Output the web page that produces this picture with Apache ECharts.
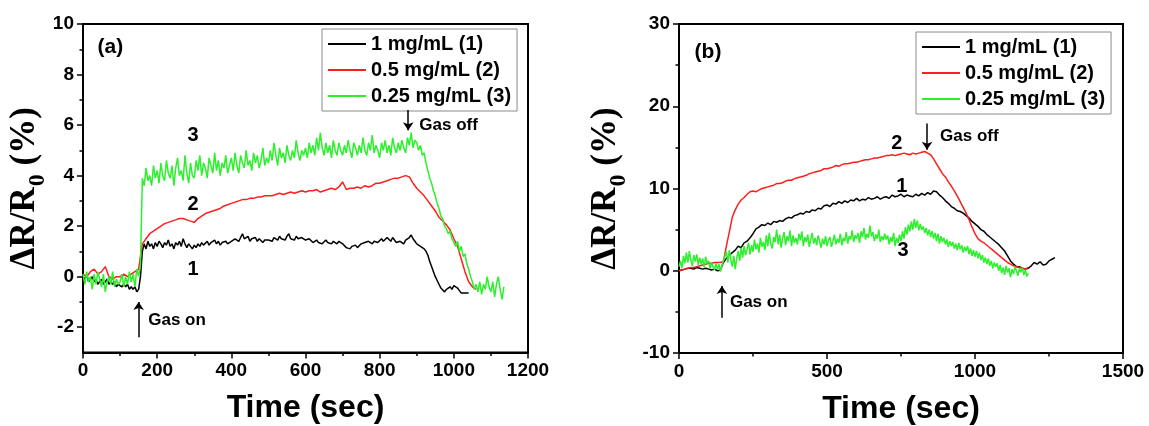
<!DOCTYPE html>
<html><head><meta charset="utf-8">
<script src="https://cdn.jsdelivr.net/npm/echarts@6/dist/echarts.min.js"></script>
<style>html,body{margin:0;padding:0;background:#fff}#c{width:1149px;height:426px}</style>
</head><body><div id="c"></div>
<script>
// ---------- data ----------
const seriesNames = ['1 mg/mL (1)', '0.5 mg/mL (2)', '0.25 mg/mL (3)'];
const seriesColors = ['#000000', '#ff1e1e', '#2bf02b'];

// Panel (a) tick values
const xTicksA = { min: 0, max: 1200, interval: 200 };
const yTicksA = [-2, 0, 2, 4, 6, 8, 10];
const yMinorTicksA = [-1, 1, 3, 5, 7, 9];
// Panel (b) tick values
const xTicksB = { min: 0, max: 1500, interval: 500 };
const yTicksB = { min: -10, max: 30, interval: 10 };

// sampling step (sec) of each recorded trace
const stepBlackA = 5, stepRedA = 10, stepGreenA = 5;
const stepBlackB = 10, stepRedB = 10, stepGreenB = 5;

// Panel (a) traces, ΔR/R0 (%)
const blackA = [
  0.0,-0.1,0.1,-0.2,-0.1,0.0,-0.2,-0.1,-0.3,-0.2,-0.1,-0.3,-0.2,-0.1,-0.3,-0.2,-0.3,-0.2,-0.4,-0.3,
  -0.3,-0.4,-0.3,-0.4,-0.3,-0.5,-0.4,-0.5,-0.4,-0.6,-0.5,0.0,1.0,1.3,1.1,1.4,1.2,1.3,1.1,1.35,
  1.2,1.4,1.3,1.15,1.35,1.25,1.45,1.2,1.3,1.1,1.35,1.25,1.4,1.2,1.5,1.3,1.15,1.3,1.2,1.1,
  1.25,1.15,1.3,1.2,1.35,1.25,1.3,1.4,1.25,1.35,1.3,1.45,1.3,1.4,1.25,1.35,1.3,1.4,1.3,1.35,
  1.4,1.35,1.5,1.45,1.4,1.55,1.7,1.5,1.45,1.6,1.4,1.5,1.45,1.55,1.4,1.5,1.45,1.35,1.45,1.4,
  1.45,1.5,1.4,1.55,1.5,1.45,1.6,1.5,1.55,1.45,1.6,1.7,1.5,1.55,1.45,1.6,1.5,1.45,1.55,1.5,
  1.45,1.4,1.5,1.45,1.35,1.4,1.45,1.35,1.4,1.3,1.35,1.45,1.35,1.4,1.3,1.4,1.35,1.3,1.4,1.35,
  1.3,1.25,1.15,1.2,1.1,1.2,1.15,1.25,1.15,1.2,1.3,1.25,1.35,1.3,1.4,1.35,1.3,1.4,1.45,1.35,
  1.4,1.5,1.4,1.45,1.55,1.5,1.4,1.55,1.45,1.35,1.3,1.4,1.35,1.3,1.45,1.4,1.55,1.65,1.5,1.4,
  1.3,1.25,1.2,1.15,1.1,1.0,0.85,0.6,0.4,0.2,0.0,-0.15,-0.3,-0.45,-0.5,-0.6,-0.5,-0.45,-0.4,-0.5,
  -0.35,-0.3,-0.45,-0.55,-0.65,-0.7,-0.65,-0.6,-0.65
];
const redA = [
  0.1,0.0,0.2,0.3,0.1,0.2,0.4,0.0,-0.1,0.0,
  0.0,0.1,0.0,0.1,0.2,0.3,1.3,1.5,1.7,1.8,
  1.9,2.0,2.1,2.15,2.2,2.25,2.3,2.3,2.25,2.2,
  2.15,2.3,2.4,2.5,2.55,2.6,2.65,2.7,2.8,2.85,
  2.9,2.95,3.0,3.05,3.05,3.1,3.1,3.15,3.15,3.2,
  3.2,3.2,3.25,3.3,3.25,3.3,3.35,3.3,3.35,3.4,
  3.35,3.4,3.4,3.45,3.35,3.4,3.45,3.5,3.45,3.55,
  3.75,3.45,3.5,3.5,3.55,3.5,3.6,3.55,3.6,3.7,
  3.7,3.75,3.8,3.85,3.9,3.9,3.95,4.0,3.95,3.7,
  3.5,3.35,3.2,3.0,2.8,2.6,2.35,2.2,2.05,1.85,
  1.5,1.2,0.7,0.2,-0.2,-0.4,-0.5
];
const greenA = [
  0.1,-0.3,0.2,-0.2,0.0,-0.5,0.1,-0.3,0.2,-0.1,-0.4,0.1,-0.6,-0.2,0.0,-0.3,0.2,-0.4,-0.1,-0.3,
  -0.2,0.1,-0.4,0.0,-0.3,0.2,-0.2,0.1,-0.4,0.3,0.0,0.5,3.9,3.6,4.3,3.8,4.0,3.6,4.4,3.9,
  4.2,3.7,4.5,4.0,3.8,4.6,4.1,3.9,4.4,3.6,4.3,4.7,4.0,4.2,3.8,4.8,4.1,3.7,4.5,4.0,
  3.9,4.6,4.2,4.8,4.0,4.5,4.3,3.9,4.7,4.4,4.1,4.9,4.2,4.6,4.0,4.5,4.3,4.8,4.1,4.4,
  4.7,4.2,4.9,4.4,4.1,4.8,4.5,4.3,5.0,4.4,4.6,4.2,4.9,4.5,4.8,4.3,4.6,5.1,4.4,4.7,
  4.5,5.0,4.6,5.3,4.8,4.4,5.1,4.7,4.9,4.5,5.2,4.8,4.6,5.0,4.7,5.4,4.9,4.6,5.0,4.8,
  5.1,4.7,5.3,4.9,5.2,4.8,5.5,5.0,5.7,5.1,4.8,5.3,4.9,5.2,4.7,5.4,5.0,4.8,5.3,5.0,
  4.8,5.2,4.9,5.4,5.0,4.7,5.3,5.1,4.8,5.2,4.9,5.5,5.0,4.8,5.3,5.0,5.6,4.9,5.2,5.0,
  4.7,5.3,5.0,5.4,4.9,5.2,4.8,5.5,5.1,4.9,5.3,5.0,5.4,5.1,4.9,5.5,5.2,5.7,5.1,5.4,
  5.3,5.0,5.2,4.8,4.9,4.5,4.2,3.9,3.7,3.4,3.2,2.9,2.7,2.4,2.3,2.0,1.9,1.7,1.8,1.5,
  1.5,1.2,1.4,1.0,1.2,0.8,0.9,0.5,0.3,0.0,-0.2,-0.5,-0.3,-0.6,-0.2,-0.7,-0.3,-0.5,0.0,-0.4,
  -0.6,-0.2,-0.8,-0.3,0.0,-0.5,-0.9,-0.4
];

// Panel (b) traces, ΔR/R0 (%)
const blackB = [
  0.0,0.1,0.2,0.3,0.3,0.2,0.4,0.3,0.2,0.3,
  0.2,0.1,0.2,0.0,0.1,1.0,1.5,1.9,2.2,2.5,
  3.0,2.8,3.4,3.6,4.0,4.5,5.1,5.3,5.6,5.5,
  5.8,5.6,6.0,5.9,6.1,6.0,6.3,6.5,6.4,6.7,
  6.8,7.0,6.9,7.2,7.1,7.4,7.3,7.6,7.5,7.9,
  8.0,7.8,8.2,8.1,8.4,8.2,8.5,8.3,8.6,8.5,
  8.8,8.5,8.7,8.6,8.9,8.7,8.8,9.0,8.7,8.9,
  9.0,8.8,9.2,9.0,9.1,9.3,9.0,9.2,9.1,9.0,
  9.3,9.1,9.4,9.2,9.5,9.3,9.7,9.6,9.2,8.9,
  8.5,8.2,7.8,7.6,7.3,7.2,7.0,6.7,6.4,6.0,
  5.7,5.4,5.0,4.8,4.4,4.1,3.8,3.5,3.2,2.8,
  2.4,1.8,1.2,0.8,0.5,0.5,0.3,0.2,0.3,0.6,
  1.0,0.8,1.1,0.7,0.8,1.2,1.4,1.6
];
const redB = [
  0.0,0.1,0.2,0.3,0.4,0.4,0.5,0.6,0.7,0.8,
  0.9,0.9,1.0,1.0,1.0,1.1,3.0,4.7,6.5,7.4,
  8.1,8.6,8.9,9.3,9.6,9.7,9.6,9.8,10.0,10.1,
  10.2,10.3,10.4,10.6,10.6,10.7,10.9,11.0,11.0,11.2,
  11.3,11.4,11.5,11.6,11.8,11.9,12.0,12.1,12.2,12.4,
  12.4,12.5,12.6,12.8,12.7,12.9,13.0,13.0,13.1,13.2,
  13.2,13.3,13.4,13.5,13.5,13.6,13.7,13.7,13.8,13.9,
  14.0,14.0,14.1,14.0,14.1,14.2,14.3,14.2,14.1,14.3,
  14.2,14.3,14.4,14.5,14.3,14.1,13.6,13.0,12.4,11.8,
  11.4,10.8,10.3,9.7,9.1,8.4,7.7,7.0,6.2,5.3,
  4.5,3.9,3.6,3.4,3.1,2.8,2.5,2.2,1.9,1.6,
  1.3,1.0,0.8,0.6,0.5,0.4,0.3,0.2,0.4
];
const greenB = [
  0.5,1.2,0.3,1.8,0.9,2.2,1.0,2.4,1.3,0.6,1.9,1.1,2.0,0.7,1.6,0.8,1.5,0.4,1.7,0.9,
  1.2,0.3,1.0,0.5,0.1,0.9,0.2,0.8,-0.1,0.6,0.4,1.8,2.3,1.0,2.5,1.4,0.5,1.8,0.2,1.5,
  2.4,1.2,2.8,1.6,3.0,1.9,2.6,3.4,2.0,3.1,2.3,3.8,2.6,3.3,2.2,4.0,2.9,3.5,2.5,4.3,
  3.0,4.6,3.3,2.7,4.1,3.5,5.0,3.2,4.4,2.8,3.9,4.7,3.1,4.2,3.6,4.9,3.0,4.3,3.4,4.0,
  3.2,4.5,3.7,4.8,3.0,4.1,3.5,4.4,2.9,3.8,4.6,3.3,4.0,3.1,4.3,3.6,2.8,3.9,3.2,4.2,
  3.0,3.7,4.1,2.9,3.6,4.4,3.2,3.9,3.4,4.5,3.1,4.0,3.6,4.7,3.3,4.2,3.8,4.9,3.5,4.3,
  3.9,4.6,3.4,4.8,4.1,5.2,3.8,4.5,4.0,5.5,4.2,4.7,3.6,4.4,3.9,5.0,3.5,4.2,3.7,4.5,
  3.8,4.3,3.2,4.1,3.5,4.6,3.0,4.0,3.4,4.4,3.6,4.8,3.9,5.3,4.4,5.6,4.8,6.0,5.0,6.3,
  5.2,6.1,4.9,5.7,5.0,5.4,4.6,5.2,4.3,5.0,4.1,4.8,3.9,4.6,3.6,4.5,3.3,4.2,3.5,4.0,
  3.2,3.8,2.9,3.6,3.0,3.5,2.7,3.3,2.5,3.4,2.6,3.1,2.2,2.9,2.4,3.0,2.0,2.7,1.8,2.5,
  1.7,2.4,1.5,2.2,1.3,1.9,1.0,1.6,0.8,1.5,0.6,1.2,0.3,1.0,0.5,0.9,0.0,0.7,-0.3,0.4,
  -0.5,0.6,-0.2,0.3,-0.8,0.2,-0.4,0.5,0.0,-0.6,0.3,-0.2,0.4,-0.5,0.1,-0.7,-0.3
];

// annotations (text, time, value)
const curveLabelsA = [['3', 297, 5.6], ['2', 297, 2.85], ['1', 297, 0.28]];
const curveLabelsB = [['2', 736, 15.5], ['1', 753, 10.3], ['3', 757, 2.5]];
const panelTagA = ['(a)', 74, 9.1];
const panelTagB = ['(b)', 98, 26.6];
const gasOnA = { text: 'Gas on', t: 150, from: -2.4, to: -1.0, textT: 176, textV: -1.74 };
const gasOffA = { text: 'Gas off', t: 877, from: 6.6, to: 5.8, textT: 907, textV: 6.0 };
const gasOnB = { text: 'Gas on', t: 145, from: -5.7, to: -1.85, textT: 172, textV: -3.8 };
const gasOffB = { text: 'Gas off', t: 838, from: 17.9, to: 14.7, textT: 882, textV: 16.3 };

// ---------- chart ----------
const FONT = 'Liberation Sans';
const SERIF = 'Liberation Serif';
function pairs(arr, step) { return arr.map((v, i) => [i * step, v]); }

const axisLineS = { show: true, onZero: false, lineStyle: { color: '#000', width: 2 } };
const tickS = { show: true, inside: false, length: 6, lineStyle: { color: '#000', width: 1.5 } };
const minorS = { show: true, splitNumber: 2, length: 3.5, lineStyle: { color: '#000', width: 1.5 } };
const labelS = { color: '#000', fontFamily: FONT, fontWeight: 'bold', fontSize: 19, formatter: v => String(v) };

function xAxisFor(grid, t) {
  return {
    type: 'value', gridIndex: grid, min: t.min, max: t.max, interval: t.interval,
    axisLine: axisLineS, axisTick: tickS, minorTick: minorS,
    splitLine: { show: false }, minorSplitLine: { show: false },
    axisLabel: Object.assign({ margin: 9 }, labelS),
    name: 'Time (sec)', nameLocation: 'middle', nameGap: 40, nameMoveOverlap: false,
    nameTextStyle: { color: '#000', fontFamily: FONT, fontWeight: 'bold', fontSize: 32 }
  };
}
const yName = '{a|ΔR/R}{s|0}{a| (%)}';
const yNameStyle = {
  color: '#000', fontFamily: SERIF, fontWeight: 'bold', fontSize: 35,
  rich: {
    a: { fontFamily: SERIF, fontWeight: 'bold', fontSize: 35, lineHeight: 40, verticalAlign: 'top', color: '#000' },
    s: { fontFamily: SERIF, fontWeight: 'bold', fontSize: 24, lineHeight: 24, padding: [19, 0, 0, 1], verticalAlign: 'top', color: '#000' }
  }
};

function annot(labels, tag, on, off) {
  const pts = labels.map(l => ({ name: l[0], coord: [l[1], l[2]],
    label: { fontSize: 20 } }));
  pts.push({ name: tag[0], coord: [tag[1], tag[2]], label: { fontSize: 21 } });
  [on, off].forEach(g => pts.push({ name: g.text, coord: [g.textT, g.textV],
    label: { fontSize: 17, align: 'left' } }));
  return {
    markPoint: {
      silent: true, symbol: 'rect', symbolSize: 1,
      itemStyle: { color: 'rgba(0,0,0,0)' },
      label: { show: true, position: 'inside', formatter: '{b}', color: '#000',
        fontFamily: FONT, fontWeight: 'bold', verticalAlign: 'middle' },
      data: pts
    },
    markLine: {
      silent: true, symbol: ['none', 'arrow'], symbolSize: 8,
      lineStyle: { color: '#000', width: 1.5, type: 'solid' },
      label: { show: false },
      data: [on, off].map(g => [{ coord: [g.t, g.from] }, { coord: [g.t, g.to] }])
    }
  };
}

function line(name, color, data, xi, yi, extra) {
  return Object.assign({
    type: 'line', name: name, xAxisIndex: xi, yAxisIndex: yi,
    data: data, showSymbol: false, symbol: 'none', color: color,
    lineStyle: { color: color, width: 1.5 }, animation: false, z: 2
  }, extra || {});
}

const legendBase = {
  orient: 'vertical', align: 'left', data: seriesNames,
  backgroundColor: '#fff', borderColor: '#8a8a8a', borderWidth: 1,
  padding: [4, 6, 4, 6], itemGap: 4, itemWidth: 38, itemHeight: 2, icon: 'rect',
  textStyle: { color: '#000', fontFamily: FONT, fontWeight: 'bold', fontSize: 20, lineHeight: 22 },
  selectedMode: false
};

const gridBase = { show: true, borderColor: '#000', borderWidth: 2, backgroundColor: 'transparent',
  containLabel: false, outerBoundsMode: 'none' };

const option = {
  animation: false,
  backgroundColor: '#fff',
  grid: [
    Object.assign({ left: 83, top: 24, width: 445, height: 328.5 }, gridBase),
    Object.assign({ left: 679, top: 24, width: 444, height: 329 }, gridBase)
  ],
  legend: [
    Object.assign({ left: 322, top: 29 }, legendBase),
    Object.assign({ left: 916, top: 32 }, legendBase)
  ],
  xAxis: [xAxisFor(0, xTicksA), xAxisFor(1, xTicksB)],
  yAxis: [
    {
      type: 'value', gridIndex: 0, position: 'left', min: -3, max: 10,
      axisLine: axisLineS,
      axisTick: Object.assign({ customValues: yTicksA }, tickS),
      axisLabel: Object.assign({ margin: 9, customValues: yTicksA }, labelS),
      splitLine: { show: false }
    },
    {
      type: 'value', gridIndex: 1, position: 'left', min: yTicksB.min, max: yTicksB.max, interval: yTicksB.interval,
      axisLine: axisLineS, axisTick: tickS, minorTick: minorS,
      axisLabel: Object.assign({ margin: 9 }, labelS),
      splitLine: { show: false }, minorSplitLine: { show: false },
      name: yName, nameLocation: 'middle', nameRotate: 90, nameGap: 51, nameMoveOverlap: false,
      nameTextStyle: yNameStyle
    },
    {
      type: 'value', gridIndex: 0, position: 'left', min: -3, max: 10,
      axisLine: { show: false },
      axisTick: Object.assign({}, tickS, { customValues: yMinorTicksA, length: 3.5 }),
      axisLabel: { show: false }, splitLine: { show: false },
      name: yName, nameLocation: 'middle', nameRotate: 90, nameGap: 36, nameMoveOverlap: false,
      nameTextStyle: yNameStyle
    }
  ],
  series: [
    line(seriesNames[0], seriesColors[0], pairs(blackA, stepBlackA), 0, 0),
    line(seriesNames[1], seriesColors[1], pairs(redA, stepRedA), 0, 0),
    line(seriesNames[2], seriesColors[2], pairs(greenA, stepGreenA), 0, 0, annot(curveLabelsA, panelTagA, gasOnA, gasOffA)),
    line(seriesNames[0], seriesColors[0], pairs(blackB, stepBlackB), 1, 1),
    line(seriesNames[1], seriesColors[1], pairs(redB, stepRedB), 1, 1),
    line(seriesNames[2], seriesColors[2], pairs(greenB, stepGreenB), 1, 1, annot(curveLabelsB, panelTagB, gasOnB, gasOffB))
  ]
};

const chart = echarts.init(document.getElementById('c'), null, { renderer: 'canvas' });
chart.setOption(option);
</script>
</body></html>
